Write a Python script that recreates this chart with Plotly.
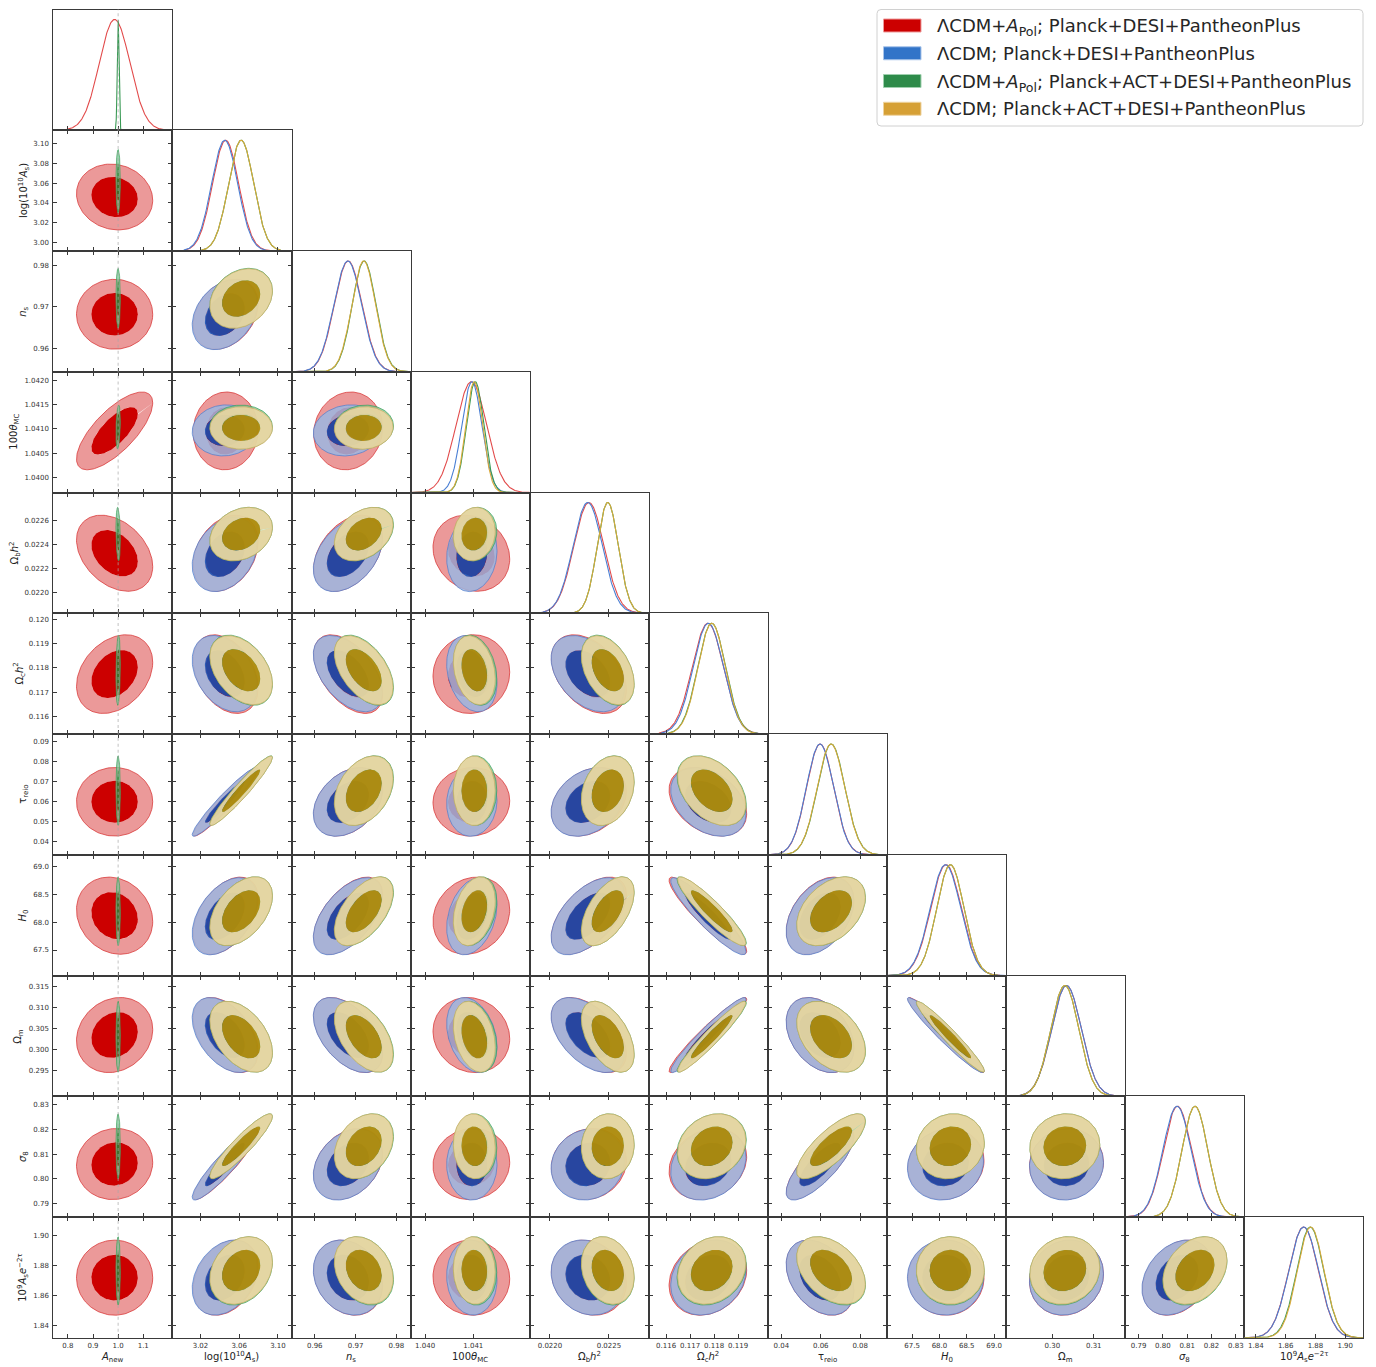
import numpy as np
import plotly.graph_objects as go

FONT = "DejaVu Sans"
W, H = 1376, 1367

# ---------------------------------------------------------------- parameters
PARAM_TITLES = [
    "<i>A</i><sub>new</sub>",
    "log(10<sup>10</sup><i>A</i><sub>s</sub>)",
    "<i>n</i><sub>s</sub>",
    "100<i>θ</i><sub>MC</sub>",
    "Ω<sub>b</sub><i>h</i><sup>2</sup>",
    "Ω<sub>c</sub><i>h</i><sup>2</sup>",
    "τ<sub>reio</sub>",
    "<i>H</i><sub>0</sub>",
    "Ω<sub>m</sub>",
    "<i>σ</i><sub>8</sub>",
    "10<sup>9</sup><i>A</i><sub>s</sub><i>e</i><sup>−2τ</sup>",
]

AXIS_RANGES = [
    (0.742, 1.216), (2.991, 3.114), (0.9543, 0.9835), (1.0397, 1.04217),
    (0.021828, 0.022838), (0.11528, 0.12024), (0.0332, 0.0936),
    (67.04, 69.22), (0.2888, 0.3176), (0.7845, 0.8335), (1.8322, 1.9122),
]

X_TICKS = [
    [0.8, 0.9, 1.0, 1.1], [3.02, 3.06, 3.10], [0.96, 0.97, 0.98], [1.040, 1.041],
    [0.0220, 0.0225], [0.116, 0.117, 0.118, 0.119], [0.04, 0.06, 0.08],
    [67.5, 68.0, 68.5, 69.0], [0.30, 0.31], [0.79, 0.80, 0.81, 0.82, 0.83],
    [1.84, 1.86, 1.88, 1.90],
]
X_TICK_TEXT = [
    ["0.8", "0.9", "1.0", "1.1"], ["3.02", "3.06", "3.10"], ["0.96", "0.97", "0.98"],
    ["1.040", "1.041"], ["0.0220", "0.0225"], ["0.116", "0.117", "0.118", "0.119"],
    ["0.04", "0.06", "0.08"], ["67.5", "68.0", "68.5", "69.0"], ["0.30", "0.31"],
    ["0.79", "0.80", "0.81", "0.82", "0.83"], ["1.84", "1.86", "1.88", "1.90"],
]
Y_TICKS = [
    [], [3.00, 3.02, 3.04, 3.06, 3.08, 3.10], [0.96, 0.97, 0.98],
    [1.0400, 1.0405, 1.0410, 1.0415, 1.0420], [0.0220, 0.0222, 0.0224, 0.0226],
    [0.116, 0.117, 0.118, 0.119, 0.120], [0.04, 0.05, 0.06, 0.07, 0.08, 0.09],
    [67.5, 68.0, 68.5, 69.0], [0.295, 0.300, 0.305, 0.310, 0.315],
    [0.79, 0.80, 0.81, 0.82, 0.83], [1.84, 1.86, 1.88, 1.90],
]
Y_TICK_TEXT = [
    [], ["3.00", "3.02", "3.04", "3.06", "3.08", "3.10"], ["0.96", "0.97", "0.98"],
    ["1.0400", "1.0405", "1.0410", "1.0415", "1.0420"],
    ["0.0220", "0.0222", "0.0224", "0.0226"],
    ["0.116", "0.117", "0.118", "0.119", "0.120"],
    ["0.04", "0.05", "0.06", "0.07", "0.08", "0.09"],
    ["67.5", "68.0", "68.5", "69.0"], ["0.295", "0.300", "0.305", "0.310", "0.315"],
    ["0.79", "0.80", "0.81", "0.82", "0.83"], ["1.84", "1.86", "1.88", "1.90"],
]

ANEW_REFERENCE = 1.0

# ---------------------------------------------------------------- chains
# order: A_new, logAs, ns, theta, ombh2, omch2, tau, H0, Om, sigma8, As e^-2tau
MEANS_RED = [0.986, 3.046, 0.9682, 1.04096, 0.02233, 0.11774, 0.0597, 68.12, 0.3034, 0.8060, 1.8720]
SIGMAS_RED = [0.061, 0.0135, 0.0034, 0.00032, 0.000128, 0.00065, 0.0069, 0.28, 0.0036, 0.0058, 0.0100]

MEANS_BLUE = [None, 3.045, 0.9681, 1.04097, 0.02232, 0.11776, 0.0596, 68.11, 0.3034, 0.8058, 1.8721]
SIGMAS_BLUE = [None, 0.0135, 0.0034, 0.00021, 0.000125, 0.00063, 0.0069, 0.28, 0.0036, 0.0058, 0.0100]

MEANS_GREEN = [1.000, 3.062, 0.9721, 1.04104, 0.02249, 0.11790, 0.0653, 68.20, 0.3030, 0.8132, 1.8765]
SIGMAS_GREEN = [0.0035, 0.0130, 0.0029, 0.00018, 0.000090, 0.00058, 0.0070, 0.25, 0.0034, 0.0053, 0.0091]

MEANS_YELLOW = [None, 3.062, 0.9720, 1.04102, 0.02249, 0.11790, 0.0652, 68.20, 0.3030, 0.8132, 1.8768]
SIGMAS_YELLOW = [None, 0.0130, 0.0029, 0.000175, 0.000090, 0.00057, 0.0070, 0.25, 0.0034, 0.0053, 0.0090]

# correlations among the ten shared parameters (logAs ... As e^-2tau)
CORR_PLANCK_DESI = [
    [1.00, 0.30, 0.05, 0.30, -0.35, 0.955, 0.45, -0.45, 0.92, 0.30],
    [0.30, 1.00, 0.10, 0.40, -0.50, 0.35, 0.55, -0.50, 0.30, -0.20],
    [0.05, 0.10, 1.00, 0.10, -0.25, 0.05, 0.30, -0.30, 0.00, -0.05],
    [0.30, 0.40, 0.10, 1.00, -0.40, 0.30, 0.55, -0.50, 0.10, -0.15],
    [-0.35, -0.50, -0.25, -0.40, 1.00, -0.35, -0.92, 0.955, 0.20, 0.20],
    [0.955, 0.35, 0.05, 0.30, -0.35, 1.00, 0.40, -0.35, 0.78, -0.35],
    [0.45, 0.55, 0.30, 0.55, -0.92, 0.40, 1.00, -0.965, 0.10, 0.00],
    [-0.45, -0.50, -0.30, -0.50, 0.955, -0.35, -0.965, 1.00, 0.05, 0.10],
    [0.92, 0.30, 0.00, 0.10, 0.20, 0.78, 0.10, 0.05, 1.00, 0.30],
    [0.30, -0.20, -0.05, -0.15, 0.20, -0.35, 0.00, 0.10, 0.30, 1.00],
]
CORR_PLANCK_ACT = [
    [1.00, 0.25, 0.00, 0.25, -0.40, 0.955, 0.45, -0.45, 0.92, 0.25],
    [0.25, 1.00, 0.05, 0.35, -0.50, 0.35, 0.55, -0.50, 0.30, -0.25],
    [0.00, 0.05, 1.00, 0.10, -0.25, 0.00, 0.30, -0.30, -0.05, -0.05],
    [0.25, 0.35, 0.10, 1.00, -0.40, 0.25, 0.55, -0.50, 0.05, -0.20],
    [-0.40, -0.50, -0.25, -0.40, 1.00, -0.40, -0.92, 0.955, 0.20, 0.20],
    [0.955, 0.35, 0.00, 0.25, -0.40, 1.00, 0.40, -0.40, 0.78, -0.40],
    [0.45, 0.55, 0.30, 0.55, -0.92, 0.40, 1.00, -0.965, 0.10, 0.00],
    [-0.45, -0.50, -0.30, -0.50, 0.955, -0.40, -0.965, 1.00, 0.05, 0.10],
    [0.92, 0.30, -0.05, 0.05, 0.20, 0.78, 0.10, 0.05, 1.00, 0.30],
    [0.25, -0.25, -0.05, -0.20, 0.20, -0.40, 0.00, 0.10, 0.30, 1.00],
]
# correlations of A_new (and of theta in the A_Pol fit) with all eleven parameters
ANEW_CORR_RED = [1.00, -0.10, 0.00, 0.72, -0.35, 0.30, 0.00, -0.15, 0.15, 0.05, 0.00]
THETA_CORR_RED = [0.72, 0.03, 0.08, 1.00, -0.15, 0.05, 0.03, 0.15, -0.10, 0.05, -0.03]
ANEW_CORR_GREEN = [1.00, 0.00, 0.00, 0.30, -0.20, 0.20, 0.00, 0.00, 0.05, 0.00, 0.00]

LEGEND_LABELS = [
    "ΛCDM+<i>A</i><sub>Pol</sub>; Planck+DESI+PantheonPlus",
    "ΛCDM; Planck+DESI+PantheonPlus",
    "ΛCDM+<i>A</i><sub>Pol</sub>; Planck+ACT+DESI+PantheonPlus",
    "ΛCDM; Planck+ACT+DESI+PantheonPlus",
]

CHAINS = [
    dict(means=MEANS_RED, sigmas=SIGMAS_RED, corr=CORR_PLANCK_DESI,
         anew=ANEW_CORR_RED, theta=THETA_CORR_RED,
         outer="rgba(204,0,0,0.40)", inner="rgba(204,0,0,1.0)",
         edge="rgba(214,45,45,0.9)", line="#E24B4B", patch="#CC0000", patch_edge="#EE9A9A"),
    dict(means=MEANS_BLUE, sigmas=SIGMAS_BLUE, corr=CORR_PLANCK_DESI,
         anew=None, theta=None,
         outer="rgba(156,182,225,0.85)", inner="rgba(11,82,188,0.85)",
         edge="rgba(80,125,205,0.9)", line="#4A7FD4", patch="#3274C8", patch_edge="#A8C4EA"),
    dict(means=MEANS_GREEN, sigmas=SIGMAS_GREEN, corr=CORR_PLANCK_ACT,
         anew=ANEW_CORR_GREEN, theta=None,
         outer="rgba(120,200,150,0.75)", inner="rgba(20,150,60,0.75)",
         edge="rgba(60,160,90,0.9)", line="#3A9A55", patch="#2E8B4A", patch_edge="#9FD0AE"),
    dict(means=MEANS_YELLOW, sigmas=SIGMAS_YELLOW, corr=CORR_PLANCK_ACT,
         anew=None, theta=None,
         outer="rgba(241,214,161,0.85)", inner="rgba(193,137,6,0.85)",
         edge="rgba(205,175,100,0.9)", line="#D9A93A", patch="#D6A035", patch_edge="#EED3A0"),
]

N = len(PARAM_TITLES)
R68 = np.sqrt(2.30)
R95 = np.sqrt(6.18)

# ---------------------------------------------------------------- geometry
COL_LEFT0, COL_W = 53.3, 119.1
ROW_TOP0, ROW_H = 9.5, 120.75
FRAME = "#3a3a3a"
TICK_SIZE = 7.0
TITLE_SIZE = 10


def fx(p):
    return p / W


def fy(p):
    return 1 - p / H


def correlation(ch, a, b):
    if a == b:
        return 1.0
    if a == 0 or b == 0:
        return ch["anew"][b if a == 0 else a]
    if ch["theta"] is not None and (a == 3 or b == 3):
        return ch["theta"][b if a == 3 else a]
    return ch["corr"][a - 1][b - 1]


def ellipse(mx, my, sx, sy, rho, r, n=140):
    t = np.linspace(0, 2 * np.pi, n)
    x = mx + r * sx * np.cos(t)
    y = my + r * sy * (rho * np.cos(t) + np.sqrt(1 - rho ** 2) * np.sin(t))
    return x, y


fig = go.Figure()
layout = dict(width=W, height=H, margin=dict(l=0, r=0, t=0, b=0),
              paper_bgcolor="white", plot_bgcolor="white", showlegend=False,
              font=dict(family=FONT, color="#333333"))
shapes = []
annotations = []

base_axis = dict(showgrid=False, zeroline=False, showline=True, linecolor=FRAME,
                 linewidth=1, ticks="inside", ticklen=4, tickwidth=1, tickcolor=FRAME,
                 tickfont=dict(size=TICK_SIZE, color="#333333", family=FONT), tickangle=0)

k = 0
for i in range(N):
    for j in range(i + 1):
        k += 1
        sfx = "" if k == 1 else str(k)
        x0 = COL_LEFT0 + j * COL_W
        y0 = ROW_TOP0 + i * ROW_H
        xa = dict(base_axis, domain=[fx(x0), fx(x0 + COL_W)], anchor="y" + sfx,
                  range=list(AXIS_RANGES[j]), tickvals=X_TICKS[j], ticktext=X_TICK_TEXT[j],
                  showticklabels=(i == N - 1), ticklabelstandoff=1,
                  mirror=True if i == j else "ticks")
        if i == j:
            ya = dict(base_axis, domain=[fy(y0 + ROW_H), fy(y0)], anchor="x" + sfx,
                      range=[0, 1.09], ticks="", showticklabels=False, mirror=True)
        else:
            ya = dict(base_axis, domain=[fy(y0 + ROW_H), fy(y0)], anchor="x" + sfx,
                      range=list(AXIS_RANGES[i]), tickvals=Y_TICKS[i], ticktext=Y_TICK_TEXT[i],
                      showticklabels=(j == 0), ticklabelstandoff=2, mirror="ticks")
        layout["xaxis" + sfx] = xa
        layout["yaxis" + sfx] = ya
        xr, yr = "x" + sfx, "y" + sfx

        if i == j:
            lo, hi = AXIS_RANGES[j]
            xs = np.linspace(lo, hi, 300)
            for ch in CHAINS:
                m, s = ch["means"][j], ch["sigmas"][j]
                if m is None:
                    continue
                fig.add_trace(go.Scatter(x=xs, y=np.exp(-0.5 * ((xs - m) / s) ** 2),
                                         mode="lines", line=dict(color=ch["line"], width=1.1),
                                         xaxis=xr, yaxis=yr, hoverinfo="skip"))
        else:
            for ch in CHAINS:
                mx, my = ch["means"][j], ch["means"][i]
                if mx is None or my is None:
                    continue
                sx, sy = ch["sigmas"][j], ch["sigmas"][i]
                rho = correlation(ch, j, i)
                ox, oy = ellipse(mx, my, sx, sy, rho, R95)
                ix, iy = ellipse(mx, my, sx, sy, rho, R68)
                # 95% band as a ring (outer boundary, then inner boundary reversed)
                fig.add_trace(go.Scatter(x=np.concatenate([ox, ix[::-1]]),
                                         y=np.concatenate([oy, iy[::-1]]),
                                         mode="lines", fill="toself", fillcolor=ch["outer"],
                                         line=dict(width=0), xaxis=xr, yaxis=yr, hoverinfo="skip"))
                fig.add_trace(go.Scatter(x=ix, y=iy, mode="lines", fill="toself",
                                         fillcolor=ch["inner"], line=dict(width=0),
                                         xaxis=xr, yaxis=yr, hoverinfo="skip"))
                fig.add_trace(go.Scatter(x=ox, y=oy, mode="lines",
                                         line=dict(color=ch["edge"], width=0.8),
                                         xaxis=xr, yaxis=yr, hoverinfo="skip"))
        if j == 0:
            shapes.append(dict(type="line", xref=xr, yref=yr + " domain",
                               x0=ANEW_REFERENCE, x1=ANEW_REFERENCE, y0=0, y1=1,
                               line=dict(color="#a8a8a8", width=0.7, dash="dot")))

# axis titles
for j in range(N):
    annotations.append(dict(text=PARAM_TITLES[j], xref="paper", yref="paper",
                            x=fx(COL_LEFT0 + (j + 0.5) * COL_W), y=fy(1357),
                            xanchor="center", yanchor="middle", showarrow=False,
                            font=dict(size=TITLE_SIZE, color="#222222", family=FONT)))
for i in range(1, N):
    # the row title sits just left of its widest tick label
    widest = max(len(t) for t in Y_TICK_TEXT[i])
    label_left = 49.0 - ((widest - 1) * 0.636 + 0.318) * TICK_SIZE
    annotations.append(dict(text=PARAM_TITLES[i], xref="paper", yref="paper",
                            x=fx(label_left - 10), y=fy(ROW_TOP0 + (i + 0.5) * ROW_H),
                            textangle=-90, xanchor="center", yanchor="middle", showarrow=False,
                            font=dict(size=TITLE_SIZE, color="#222222", family=FONT)))

# legend box with rounded corners
bx0, bx1, by0, by1, rad = 877, 1363, 9.5, 126, 4
path = (f"M {fx(bx0 + rad)},{fy(by0)} L {fx(bx1 - rad)},{fy(by0)} "
        f"Q {fx(bx1)},{fy(by0)} {fx(bx1)},{fy(by0 + rad)} L {fx(bx1)},{fy(by1 - rad)} "
        f"Q {fx(bx1)},{fy(by1)} {fx(bx1 - rad)},{fy(by1)} L {fx(bx0 + rad)},{fy(by1)} "
        f"Q {fx(bx0)},{fy(by1)} {fx(bx0)},{fy(by1 - rad)} L {fx(bx0)},{fy(by0 + rad)} "
        f"Q {fx(bx0)},{fy(by0)} {fx(bx0 + rad)},{fy(by0)} Z")
shapes.append(dict(type="path", path=path, xref="paper", yref="paper",
                   line=dict(color="#d0d0d0", width=1), fillcolor="white", layer="above"))
for n, (label, ch) in enumerate(zip(LEGEND_LABELS, CHAINS)):
    cy = 25.5 + n * 27.75
    shapes.append(dict(type="rect", xref="paper", yref="paper",
                       x0=fx(883.5), x1=fx(921), y0=fy(cy + 6.5), y1=fy(cy - 6.5),
                       fillcolor=ch["patch"], line=dict(color=ch["patch_edge"], width=1),
                       layer="above"))
    text_y = cy + (2.0 if "<sub>" in label else 0.0)
    annotations.append(dict(text=label, xref="paper", yref="paper", x=fx(935), y=fy(text_y),
                            xanchor="left", yanchor="middle", showarrow=False,
                            font=dict(size=18, color="#262626", family=FONT)))

layout["shapes"] = shapes
layout["annotations"] = annotations
fig.update_layout(**layout)
fig.write_html("out.html")
